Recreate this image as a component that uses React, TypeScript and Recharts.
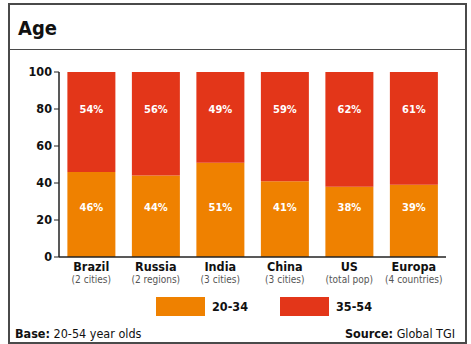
import { Bar, BarChart, LabelList, XAxis, YAxis } from "recharts";

const countries = ["Brazil", "Russia", "India", "China", "US", "Europa"];
const bases = ["(2 cities)", "(2 regions)", "(3 cities)", "(3 cities)", "(total pop)", "(4 countries)"];
const age2034 = [46, 44, 51, 41, 38, 39];
const age3554 = [54, 56, 49, 59, 62, 61];
const yTicks = [0, 20, 40, 60, 80, 100];
const seriesNames = ["20-34", "35-54"];

const ORANGE = "#EF8100";
const RED = "#E33619";
const FONT = "'DejaVu Sans Condensed', 'DejaVu Sans', sans-serif";

const data = countries.map((c, i) => ({
  name: c,
  base: bases[i],
  pos: i,
  young: age2034[i],
  old: age3554[i],
}));

function CountryTick(props: any) {
  const { x, y, payload } = props;
  const row = data[payload.index] ?? data.find((d) => d.name === payload.value);
  return (
    <g transform={`translate(${x},${y})`}>
      <text x={0} y={6} textAnchor="middle" fontSize={12.5} fontWeight="bold" fill="#111" fontFamily={FONT}>
        {payload.value}
      </text>
      <text x={0} y={18} textAnchor="middle" fontSize={10} fill="#555" fontFamily={FONT}>
        {row ? row.base : ""}
      </text>
    </g>
  );
}

function makeLabel(fromBottom: boolean) {
  return (props: any) => {
    const { x, y, width, height, value } = props;
    const ty = fromBottom ? y + height - 50 : y + 37;
    return (
      <text
        x={x + width / 2}
        y={ty}
        textAnchor="middle"
        dominantBaseline="central"
        fill="#fff"
        fontSize={11}
        fontWeight="bold"
        fontFamily={FONT}
      >
        {value}%
      </text>
    );
  };
}

export default function App() {
  const colors = [ORANGE, RED];
  return (
    <div style={{ position: "fixed", left: 0, top: 0, width: 471, height: 344, background: "#fff" }}>
      <div style={{ position: "absolute", left: 0, top: 0 }}>
        <BarChart
          width={471}
          height={344}
          data={data}
          margin={{ top: 72, right: 25, left: 19, bottom: 57 }}
          barCategoryGap="13%"
        >
          <XAxis
            dataKey="name"
            tick={<CountryTick />}
            tickLine={false}
            axisLine={{ stroke: "#222", strokeWidth: 1.5 }}
            height={30}
            interval={0}
          />
          <XAxis
            xAxisId="edges"
            type="number"
            dataKey="pos"
            domain={[0, 6]}
            ticks={[1, 2, 3, 4, 5, 6]}
            mirror
            tick={false}
            tickSize={4}
            tickLine={{ stroke: "#222" }}
            axisLine={false}
            height={0}
          />
          <YAxis
            domain={[0, 100]}
            ticks={yTicks}
            width={40}
            tickSize={5}
            tickLine={{ stroke: "#222" }}
            axisLine={{ stroke: "#222", strokeWidth: 1.5 }}
            tick={{ fill: "#111", fontSize: 12.5, fontWeight: "bold", fontFamily: FONT }}
          />
          <Bar dataKey="young" name={seriesNames[0]} stackId="a" fill={ORANGE} isAnimationActive={false}>
            <LabelList dataKey="young" content={makeLabel(true)} />
          </Bar>
          <Bar dataKey="old" name={seriesNames[1]} stackId="a" fill={RED} isAnimationActive={false}>
            <LabelList dataKey="old" content={makeLabel(false)} />
          </Bar>
        </BarChart>
      </div>
      <div
        style={{
          position: "absolute",
          left: 8,
          top: 3,
          width: 459,
          height: 341,
          border: "2px solid #4a4a4a",
          boxSizing: "border-box",
          zIndex: 2,
          pointerEvents: "none",
        }}
      />
      <div style={{ position: "absolute", left: 10, top: 49, width: 455, height: 1, background: "#4a4a4a", zIndex: 2 }} />
      <div
        style={{
          position: "absolute",
          left: 18,
          top: 16,
          fontFamily: FONT,
          fontWeight: "bold",
          fontSize: 20,
          color: "#111",
        }}
      >
        Age
      </div>
      <div style={{ position: "absolute", left: 156, top: 297, display: "flex", fontFamily: FONT }}>
        {seriesNames.map((n, i) => (
          <div key={n} style={{ display: "flex", alignItems: "center", width: 124 }}>
            <div style={{ width: 49, height: 19, background: colors[i] }} />
            <span style={{ marginLeft: 7, fontWeight: "bold", fontSize: 12.5, color: "#111" }}>{n}</span>
          </div>
        ))}
      </div>
      <div
        style={{
          position: "absolute",
          left: 15,
          top: 326,
          fontFamily: FONT,
          fontSize: 12.5,
          color: "#111",
        }}
      >
        <b>Base:</b> 20-54 year olds
      </div>
      <div
        style={{
          position: "absolute",
          right: 16,
          top: 326,
          fontFamily: FONT,
          fontSize: 12.5,
          color: "#111",
        }}
      >
        <b>Source:</b> Global TGI
      </div>
    </div>
  );
}
